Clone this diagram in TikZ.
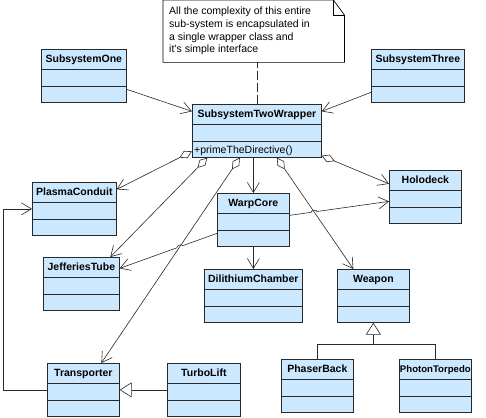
\documentclass[tikz,border=0pt]{standalone}
\usepackage{fontspec}
\setmainfont{Liberation Sans}
\usetikzlibrary{arrows.meta,calc,intersections}
\definecolor{clsfill}{RGB}{204,232,255}
\definecolor{ink}{RGB}{40,40,40}
\tikzset{
  cls/.style={draw=ink, fill=clsfill, line width=0.7pt, anchor=north west, inner sep=0pt,
    text height=13pt, text depth=40pt, minimum width=72pt, font=\bfseries\fontsize{10.5}{12}\selectfont},
  cline/.style={draw=ink, line width=0.7pt},
  assoc/.style={draw=ink, line width=0.6pt, -{Straight Barb[length=10pt,width=12pt]}},
  agg/.style={draw=ink, line width=0.6pt, {Diamond[fill=white,length=14pt,width=8pt]}-{Straight Barb[length=10pt,width=12pt]}},
  gen/.style={draw=ink, line width=0.6pt, -{Triangle[fill=white,length=12pt,width=15pt]}},
  dashline/.style={draw=ink, line width=0.7pt, dash pattern=on 9pt off 3pt}
}
\begin{document}
\begin{tikzpicture}[x=1pt, y=-1pt]
\useasboundingbox (0,0) rectangle (486,417);

\node (note) [minimum width=181pt, minimum height=62pt, inner sep=0pt, anchor=north west] at (163,0) {};
\draw[fill=white, line width=0.7pt] (note.south west) -- (note.north west) -- ([xshift=-11pt]note.north east)
  -- ([yshift=-15pt]note.north east) -- (note.south east) -- cycle;
\draw[line width=0.6pt] ([xshift=-11pt]note.north east) |- ([yshift=-15pt]note.north east);
\node (notetext) [anchor=north west, align=left, inner sep=0pt, font=\fontsize{10.5}{12.6}\selectfont] at (169,7)
  {All the complexity of this entire\\sub-system is encapsulated in\\a single wrapper class and\\it's simple interface};

\node (sysone) [cls, minimum width=85pt] at (41,49) {SubsystemOne};
\node (systhree) [cls, minimum width=93pt] at (371,49) {SubsystemThree};
\node (wrapper) [cls, minimum width=129pt] at (192,104) {SubsystemTwoWrapper};
\node (plasma) [cls, minimum width=84pt] at (32,182) {PlasmaConduit};
\node (warp) [cls] at (217,193) {WarpCore};
\node (holo) [cls] at (389,170) {Holodeck};
\node (tube) [cls, minimum width=76pt] at (43,257) {JefferiesTube};
\node (dilith) [cls, minimum width=98pt] at (204,269) {DilithiumChamber};
\node (weapon) [cls] at (337,269) {Weapon};
\node (transp) [cls] at (47,363) {Transporter};
\node (turbo) [cls, minimum width=73pt] at (167,363) {TurboLift};
\node (phaser) [cls] at (281,359) {PhaserBack};
\node (torpedo) [cls, font=\bfseries\fontsize{9.6}{12}\selectfont] at (399,359) {PhotonTorpedo};
\node (method) [anchor=base west, inner sep=0pt, font=\fontsize{10.5}{12}\selectfont] at ([xshift=2pt,yshift=4.5pt]wrapper.south west) {+primeTheDirective()};

\foreach \c in {sysone,systhree,wrapper,plasma,warp,holo,tube,dilith,weapon,transp,turbo,phaser,torpedo}
  \draw[cline] ([yshift=-20pt]\c.north west) -- ([yshift=-20pt]\c.north east)
    ([yshift=-37pt]\c.north west) -- ([yshift=-37pt]\c.north east);

\draw[dashline] (wrapper.north) -- (wrapper.north |- note.south);
\draw[assoc] ([yshift=-13.5pt]sysone.east) -- ([yshift=19.5pt]wrapper.west);
\draw[assoc] ([yshift=-16.5pt]systhree.west) -- ([yshift=19.5pt]wrapper.east);

\draw[agg] ([yshift=-20.5pt]wrapper.west) -- ([yshift=19.5pt]plasma.east);
\draw[agg] ([xshift=-49.5pt]wrapper.south) -- ([xshift=29pt]tube.north);
\draw[agg, name path=wt] ([xshift=-17pt]wrapper.south) -- ([xshift=18pt]transp.north);
\draw[assoc] (wrapper.south -| warp.north) -- (warp.north);
\draw[agg] ([yshift=2pt]wrapper.south east) -- ([yshift=13pt]holo.west);
\draw[agg, name path=ww] ([xshift=20pt]wrapper.south) -- ([xshift=-20pt]weapon.north);

\coordinate (wj1) at ([yshift=-13.5pt]warp.west);
\coordinate (wj2) at ([yshift=15.5pt]tube.east);
\path[name path=wj] (wj1) -- (wj2);
\path[name intersections={of=wj and wt, by=h1}];
\draw[assoc] (wj1) -- ($(h1)!3pt!(wj1)$) to[bend right=90] ($(h1)!3pt!(wj2)$) -- (wj2);

\coordinate (wh1) at ([yshift=4.5pt]warp.east);
\coordinate (wh2) at ([yshift=-4.5pt]holo.west);
\path[name path=wh] (wh1) -- (wh2);
\path[name intersections={of=wh and ww, by=h2}];
\draw[assoc] (wh1) -- ($(h2)!3pt!(wh1)$) to[bend left=90] ($(h2)!3pt!(wh2)$) -- (wh2);

\draw[assoc] (warp.south) -- (dilith.north);
\draw[assoc] (transp.west) -- ++(-44,0) |- (plasma.west);
\draw[gen] (turbo.west) -- (transp.east);

\coordinate (split) at ([yshift=-22pt]weapon.south);
\draw[cline] (phaser.north) |- (split) -| (torpedo.north);
\draw[gen] (split) -- (weapon.south);

\end{tikzpicture}
\end{document}
